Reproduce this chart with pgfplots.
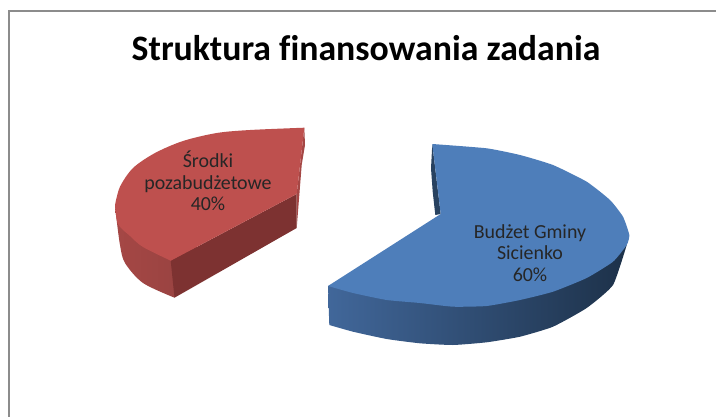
\documentclass[border=0pt]{standalone}
\usepackage{pgfplots}
\pgfplotsset{compat=1.18}
\usepackage{fontspec}
\setmainfont{Carlito}
\definecolor{redtop}{HTML}{BE504E}
\definecolor{reddark}{HTML}{7D3231}
\definecolor{redmid}{HTML}{A54745}
\definecolor{redmid2}{HTML}{964240}
\definecolor{bluetop}{HTML}{4E7EBA}
\definecolor{bluel}{HTML}{41679A}
\definecolor{bluem}{HTML}{284260}
\definecolor{bluer}{HTML}{1D3149}
\definecolor{framec}{HTML}{8C8C8C}
\begin{document}
\begin{tikzpicture}
\useasboundingbox (0,0) rectangle (716bp,417bp);
\begin{axis}[
  at={(0,0)}, anchor=south west,
  width=716bp, height=417bp, scale only axis,
  xmin=0, xmax=716, ymin=0, ymax=417, y dir=reverse,
  hide axis, clip=true,
]
% frame
\addplot[draw=framec, line width=2pt, no marks] coordinates {(8.7,417) (8.7,10.7) (716,10.7)};
% red sides
\addplot[draw=none, fill=redmid, no marks] coordinates {(304.3,127.7) (296.7,194) (296.7,228) (301.7,165) (305,145)} -- cycle;
\addplot[draw=none, left color=redmid, right color=redmid2, no marks, shading angle=90, smooth, tension=0.5] coordinates {
 (115,205) (116,215) (120,245) (125,263) (143,283) (174.5,297.7)} -- (200,250) -- (150,200) -- cycle;
\addplot[draw=none, fill=reddark, no marks] coordinates {(170.7,260.7) (296.7,194) (296.7,228) (174.5,297.7)} -- cycle;
% red top
\addplot[draw=none, fill=redtop, no marks, smooth, tension=0.5] coordinates {
 (115,205) (120,186.7) (133,168) (155,153) (183,141) (216.7,133) (250,130) (304.3,127.7)} -- (296.7,194) -- (170.7,260.7) -- cycle;
\addplot[draw=none, fill=redtop, no marks, smooth, tension=0.5] coordinates {
 (115,205) (118,224) (130,236) (143,247) (170.7,260.7)} -- (210,200) -- cycle;
% blue sides
\addplot[draw=none, fill=bluem, no marks] coordinates {(432.3,144) (431,168.3) (432.7,191.7) (435.3,215) (440.7,214)} -- cycle;
\addplot[draw=none, left color=bluel, middle color=bluem, right color=bluer, no marks, shading angle=90, smooth, tension=0.3] coordinates {
 (329.3,325) (353,331.7) (386.7,339) (420,343.3) (453,345) (486.7,342.3) (520,336.7) (553,326.7) (586.7,308) (613,285) (626.7,245)} -- (560,230) -- (328,286) -- cycle;
% blue top
\addplot[draw=none, fill=bluetop, no marks, smooth, tension=0.3] coordinates {
 (432.3,144) (486.7,148.3) (520,155) (553,165) (586.7,181.7) (610,200) (623,216.7) (629.3,235) (626.7,245) (613,261.7) (586.7,278) (553,291.7) (520,300) (486.7,306) (453,306.7) (420,303) (386.7,300) (353,293) (328,286)} -- (440.7,214) -- cycle;
% text
\node[font=\fontsize{35.9}{40}\selectfont\bfseries, text=black, anchor=center] at (axis cs:366,48) {Struktura f\kern0pt inansowania zadania};
\node[font=\fontsize{20}{21.4}\selectfont, text=black!85, align=center, anchor=center] at (axis cs:208,181) {Środki\\pozabudżetowe\\40\%};
\node[font=\fontsize{20}{21.4}\selectfont, text=black!85, align=center, anchor=center] at (axis cs:530,253) {Budżet Gminy\\Sicienko\\60\%};
\end{axis}
\end{tikzpicture}
\end{document}
